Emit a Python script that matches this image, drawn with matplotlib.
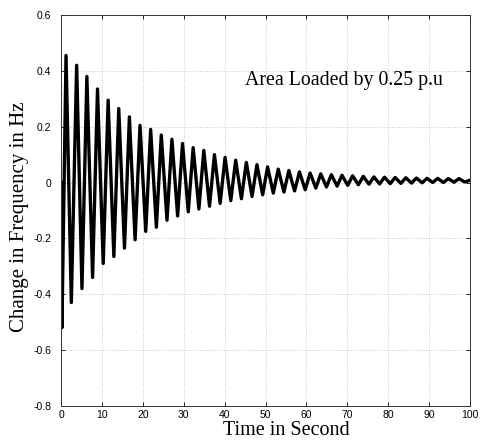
import matplotlib
matplotlib.use("Agg")
import matplotlib.pyplot as plt

# Extrema of the oscillation (time in s, change in Hz)
peak_t = [1.2, 3.8, 6.3, 8.9, 11.5, 14.1, 16.7, 19.3, 21.9, 24.5, 27.1, 29.7,
          32.3, 34.9, 37.5, 40.1, 42.7, 45.3, 47.9, 50.5, 53.1, 55.7, 58.3,
          60.9, 63.5, 66.1, 68.7, 71.3, 73.9, 76.5, 79.1, 81.7, 84.3, 86.9,
          89.5, 92.1, 94.7, 97.3]
peak_v = [0.455, 0.42, 0.38, 0.335, 0.295, 0.265, 0.235, 0.205, 0.19, 0.17,
          0.155, 0.14, 0.125, 0.115, 0.10, 0.09, 0.08, 0.072, 0.064, 0.056,
          0.048, 0.043, 0.038, 0.034, 0.031, 0.028, 0.026, 0.024, 0.022, 0.02,
          0.019, 0.018, 0.017, 0.016, 0.015, 0.015, 0.014, 0.014]
trough_t = [0.2, 2.5, 5.1, 7.7, 10.3, 12.9, 15.5, 18.1, 20.7, 23.3, 25.9, 28.5,
            31.1, 33.7, 36.3, 38.9, 41.5, 44.1, 46.7, 49.3, 51.9, 54.5, 57.1,
            59.7, 62.3, 64.9, 67.5, 70.1, 72.7, 75.3, 77.9, 80.5, 83.1, 85.7,
            88.3, 90.9, 93.5, 96.1, 98.7]
trough_v = [-0.52, -0.43, -0.38, -0.34, -0.29, -0.265, -0.235, -0.205, -0.175,
            -0.16, -0.135, -0.12, -0.105, -0.095, -0.085, -0.075, -0.065,
            -0.058, -0.05, -0.044, -0.038, -0.034, -0.03, -0.026, -0.02,
            -0.016, -0.013, -0.01, -0.008, -0.006, -0.005, -0.004, -0.003,
            -0.002, -0.001, 0.0, 0.0, 0.001, 0.002]
start_t, start_v = 0.0, 0.0
end_t, end_v = 100.0, 0.008

xticks = [0, 10, 20, 30, 40, 50, 60, 70, 80, 90, 100]
yticks = [-0.8, -0.6, -0.4, -0.2, 0, 0.2, 0.4, 0.6]
ytick_labels = ["-0.8", "-0.6", "-0.4", "-0.2", "0", "0.2", "0.4", "0.6"]

pts = sorted(list(zip(peak_t, peak_v)) + list(zip(trough_t, trough_v)))
t = [start_t] + [p[0] for p in pts] + [end_t]
v = [start_v] + [p[1] for p in pts] + [end_v]

fig = plt.figure(figsize=(4.85, 4.43), dpi=100)
ax = fig.add_axes([0.126, 0.084, 0.843, 0.882])
ax.plot(t, v, color="black", linewidth=2.4, solid_joinstyle="round")

ax.set_xlim(0, 100)
ax.set_ylim(-0.8, 0.6)
ax.set_xticks(xticks)
ax.set_yticks(yticks)
ax.set_yticklabels(ytick_labels)
ax.grid(True, linestyle=(0, (1, 2.5)), color="0.6", linewidth=0.5)
ax.tick_params(direction="in", length=3, width=0.6, top=True, right=True,
               labelsize=7.5)
ax.tick_params(axis="y", pad=7)
ax.tick_params(axis="x", pad=3)
for lab in ax.get_xticklabels() + ax.get_yticklabels():
    lab.set_family("Liberation Sans")
for s in ax.spines.values():
    s.set_linewidth(0.7)
    s.set_color("0.2")

ax.set_xlabel("Time in Second", family="Liberation Serif", fontsize=14.5, labelpad=1)
ax.xaxis.label.set_x(0.55)
ax.set_ylabel("Change in Frequency in Hz", family="Liberation Serif", fontsize=15, labelpad=3)
ax.yaxis.label.set_y(0.485)
ax.text(45, 0.365, "Area Loaded by 0.25 p.u", family="Liberation Serif",
        fontsize=14.3, va="center", ha="left")

fig.savefig("out.png", dpi=100)
